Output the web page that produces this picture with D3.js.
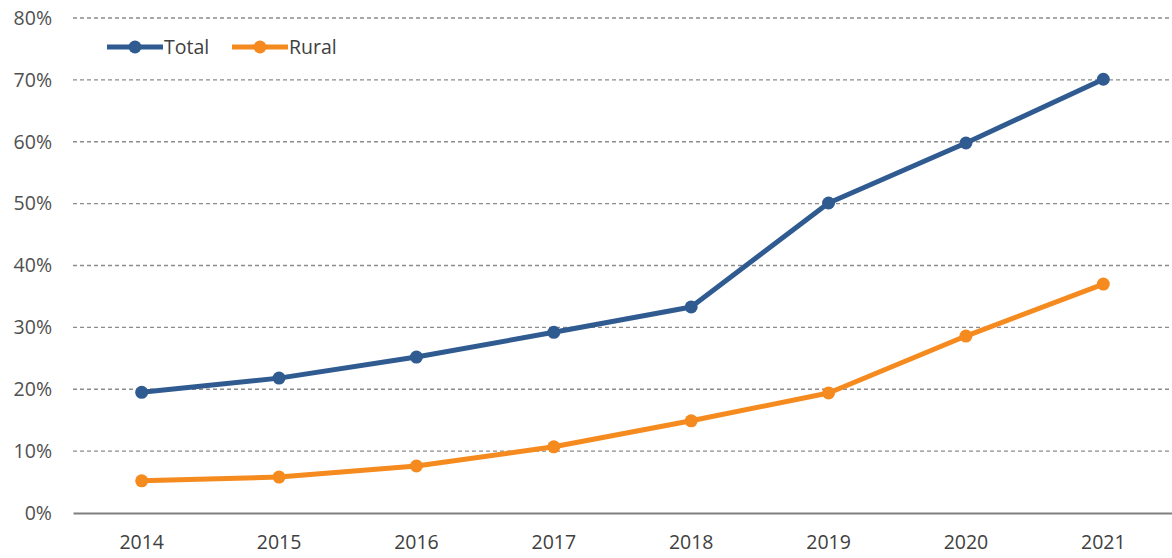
<!DOCTYPE html>
<html>
<head>
<meta charset="utf-8">
<script src="https://cdn.jsdelivr.net/npm/d3@7"></script>
<style>
  body { margin: 0; background: #fff; }
  svg { font-family: "Open Sans", sans-serif; }
</style>
</head>
<body>
<div id="chart"></div>
<script>
// data
var years = ["2014", "2015", "2016", "2017", "2018", "2019", "2020", "2021"];
var total = [19.5, 21.8, 25.2, 29.2, 33.3, 50.1, 59.8, 70.1];
var rural = [5.2, 5.8, 7.6, 10.7, 14.9, 19.4, 28.6, 37.0];
var yTicks = [0, 10, 20, 30, 40, 50, 60, 70, 80];

var width = 1172, height = 558;
var margin = { top: 18, right: 0, bottom: 45, left: 73 };
var chartWidth = width - margin.left - margin.right;
var chartHeight = height - margin.top - margin.bottom;

var svg = d3.select("#chart").append("svg")
    .attr("width", width)
    .attr("height", height);

var g = svg.append("g")
    .attr("transform", `translate(${margin.left}, ${margin.top})`);

var x = d3.scaleBand().domain(years).range([0, chartWidth]);
var y = d3.scaleLinear().domain([0, 80]).range([chartHeight, 0]);

// gridlines
g.selectAll(".grid")
  .data(yTicks.filter(d => d > 0))
  .enter().append("line")
  .attr("x1", 0).attr("x2", chartWidth)
  .attr("y1", d => y(d)).attr("y2", d => y(d))
  .attr("stroke", "#8c8c8c")
  .attr("stroke-width", 1.3)
  .attr("stroke-dasharray", "4,3");

// y axis labels
var yAxis = g.append("g")
  .call(d3.axisLeft(y).tickValues(yTicks).tickFormat(d => d + "%").tickSize(0).tickPadding(21));
yAxis.select(".domain").remove();
yAxis.selectAll("text").attr("font-size", 19.5).attr("fill", "#505050")
  .attr("font-family", "'Open Sans', sans-serif");

// x axis
var xAxis = g.append("g")
  .attr("transform", `translate(0, ${chartHeight})`)
  .call(d3.axisBottom(x).tickSize(0).tickPadding(22));
xAxis.select(".domain").attr("stroke", "#7f7f7f").attr("stroke-width", 1.8);
xAxis.selectAll("text").attr("font-size", 19.5).attr("fill", "#404040")
  .attr("font-family", "'Open Sans', sans-serif");

var series = [
  { name: "Total", values: total, color: "#2F5B91" },
  { name: "Rural", values: rural, color: "#F58A1F" }
];

var line = d3.line()
  .x((d, i) => x(years[i]) + x.bandwidth() / 2)
  .y(d => y(d));

series.forEach(function(s) {
  g.append("path")
    .datum(s.values)
    .attr("fill", "none")
    .attr("stroke", s.color)
    .attr("stroke-width", 5)
    .attr("stroke-linejoin", "round")
    .attr("d", line);

  g.selectAll(".pt-" + s.name)
    .data(s.values)
    .enter().append("circle")
    .attr("cx", (d, i) => x(years[i]) + x.bandwidth() / 2)
    .attr("cy", d => y(d))
    .attr("r", 6.5)
    .attr("fill", s.color);
});

// legend
var legend = svg.append("g").attr("transform", "translate(107, 47)");
var legendX = [0, 125];
series.forEach(function(s, i) {
  var lg = legend.append("g").attr("transform", `translate(${legendX[i]}, 0)`);
  lg.append("line")
    .attr("x1", 0).attr("x2", 56).attr("y1", 0).attr("y2", 0)
    .attr("stroke", s.color).attr("stroke-width", 5);
  lg.append("circle").attr("cx", 28).attr("cy", 0).attr("r", 6.5).attr("fill", s.color);
  lg.append("text")
    .attr("x", 57).attr("y", 0).attr("dy", "0.35em")
    .attr("font-size", 19.5).attr("fill", "#404040")
    .text(s.name);
});
</script>
</body>
</html>
